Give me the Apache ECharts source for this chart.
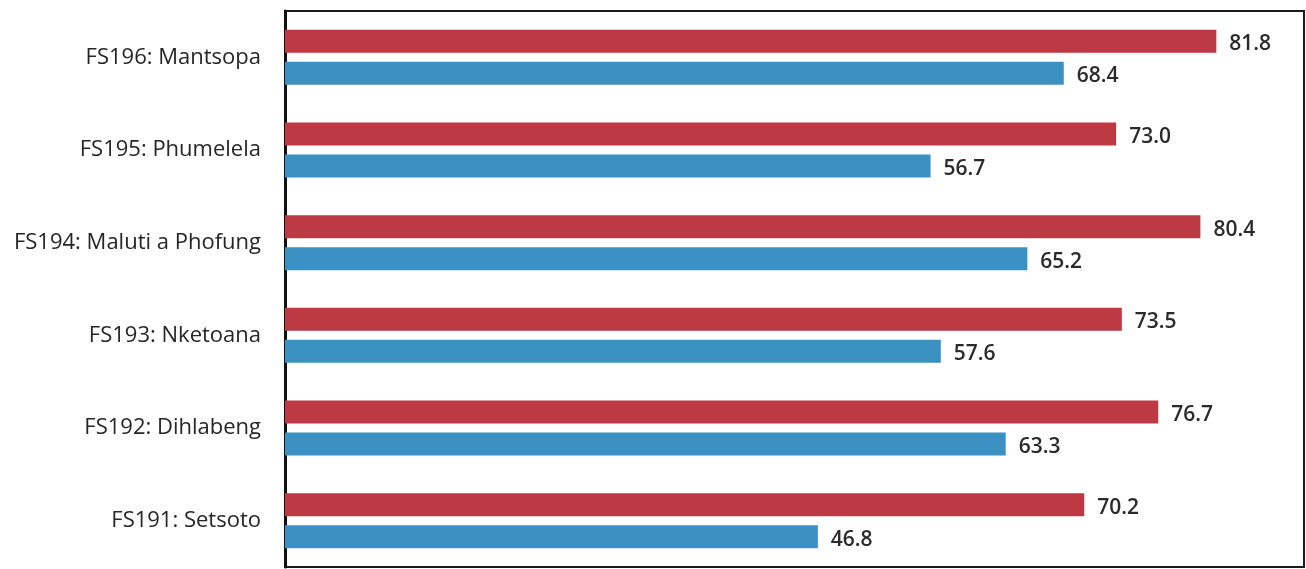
<!DOCTYPE html>
<html>
<head>
<meta charset="utf-8">
<style>
  html, body { margin: 0; padding: 0; background: #ffffff; }
  #chart { width: 1306px; height: 569px; }
</style>
<script src="https://cdn.jsdelivr.net/npm/echarts@6/dist/echarts.min.js"></script>
</head>
<body>
<div id="chart"></div>
<script>
// Municipalities, listed bottom to top as the category axis runs
const municipalities = [
  'FS191: Setsoto',
  'FS192: Dihlabeng',
  'FS193: Nketoana',
  'FS194: Maluti a Phofung',
  'FS195: Phumelela',
  'FS196: Mantsopa'
];
const redValues = [70.2, 76.7, 73.5, 80.4, 73.0, 81.8];
const blueValues = [46.8, 63.3, 57.6, 65.2, 56.7, 68.4];

const chart = echarts.init(document.getElementById('chart'), null, { renderer: 'canvas' });

const labelStyle = {
  show: true,
  position: 'right',
  distance: 13,
  offset: [0, 3],
  fontFamily: 'Open Sans',
  fontSize: 21,
  fontWeight: 600,
  color: '#2a2a2a',
  formatter: p => p.value.toFixed(1)
};

chart.setOption({
  animation: false,
  backgroundColor: '#ffffff',
  grid: {
    left: 285,
    right: 2,
    top: 11,
    bottom: 2,
    show: true,
    borderColor: '#1a1a1a',
    borderWidth: 2
  },
  xAxis: {
    type: 'value',
    min: 0,
    max: 89.5,
    axisLine: { show: false },
    axisTick: { show: false },
    axisLabel: { show: false },
    splitLine: { show: false }
  },
  yAxis: {
    type: 'category',
    data: municipalities,
    axisLine: { show: true, lineStyle: { color: '#111111', width: 3 } },
    axisTick: { show: false },
    axisLabel: {
      margin: 24,
      padding: [0, 0, 5, 0],
      fontFamily: 'Open Sans',
      fontSize: 22,
      color: '#262626'
    }
  },
  series: [
    {
      name: 'red',
      type: 'bar',
      data: redValues,
      barWidth: 23,
      barGap: '39%',
      itemStyle: { color: '#bd3944' },
      label: labelStyle
    },
    {
      name: 'blue',
      type: 'bar',
      data: blueValues,
      barWidth: 23,
      barGap: '39%',
      itemStyle: { color: '#3b91c2' },
      label: labelStyle
    }
  ]
});
</script>
</body>
</html>
